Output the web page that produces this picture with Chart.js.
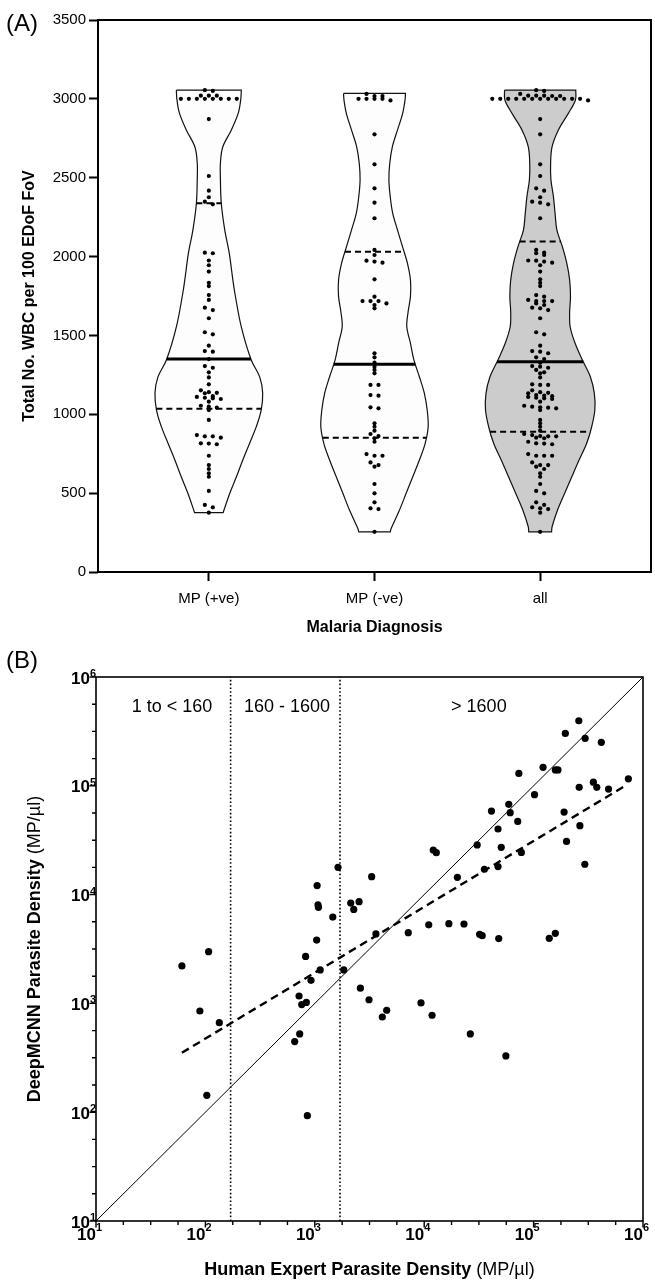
<!DOCTYPE html>
<html><head><meta charset="utf-8">
<script src="https://cdn.jsdelivr.net/npm/chart.js@4.4.0/dist/chart.umd.min.js"></script>
<style>
html,body{margin:0;padding:0;background:#fff;}
#wrapA{position:absolute;left:0;top:0;width:655px;height:645px;}
#wrapB{position:absolute;left:0;top:645px;width:655px;height:637px;}
canvas{display:block;}
</style></head><body>
<div id="wrapA"><canvas id="chartA" width="655" height="645"></canvas></div>
<div id="wrapB"><canvas id="chartB" width="655" height="637"></canvas></div>
<script>
// ---------------- Panel A data ----------------
const categories = ['MP (+ve)', 'MP (-ve)', 'all'];
const wbcTicks = [0, 500, 1000, 1500, 2000, 2500, 3000, 3500];

const wbcPositive = [3055, 3050, 3020, 3020, 3020, 3000, 3000, 3000, 3000, 3000, 3000, 3000, 3000,
  2872, 2511, 2418, 2376, 2348, 2331, 2025, 2021, 1975, 1945, 1905, 1834, 1813, 1756, 1725,
  1676, 1661, 1609, 1520, 1507, 1435, 1401, 1397, 1350, 1306, 1295, 1266, 1234, 1190,
  1152, 1140, 1136, 1133, 1115, 1110, 1105, 1101, 1097, 1080, 1054, 1048, 1042, 1027, 964,
  868, 860, 860, 852, 816, 814, 810, 737, 678, 653, 626, 604, 514, 425, 410, 376];

const wbcNegative = [3031, 3018, 3018, 3000, 3000, 3000, 3000, 2990,
  2775, 2585, 2433, 2342, 2243, 2042, 2010, 1974, 1968, 1961, 1856,
  1746, 1718, 1718, 1718, 1703, 1693, 1672,
  1387, 1361, 1327, 1302, 1281, 1260, 1186, 1186, 1122, 1118, 1044, 1038,
  943, 921, 896, 875, 862, 848, 826, 748, 737, 737, 695, 678, 668,
  558, 499, 442, 404, 399, 255];

const wbcAll = wbcPositive.concat(wbcNegative);

// violin outlines: WBC levels and half-widths (category units)
const violinLevelsPos = [3055, 3000, 2911, 2803, 2695, 2593, 2486, 2340, 2169, 2023, 1852, 1769, 1554, 1344, 1237, 1135, 1027, 920, 818, 710, 602, 501, 376];
const violinHalfPos   = [0.196, 0.193, 0.178, 0.136, 0.084, 0.070, 0.070, 0.075, 0.096, 0.123, 0.145, 0.157, 0.196, 0.256, 0.307, 0.325, 0.316, 0.286, 0.247, 0.205, 0.166, 0.127, 0.086];

const violinLevelsNeg = [3035, 2990, 2908, 2803, 2697, 2591, 2486, 2380, 2274, 2168, 2063, 1957, 1851, 1746, 1650, 1555, 1450, 1344, 1238, 1133, 1027, 921, 816, 710, 604, 499, 393, 277, 255];
const violinHalfNeg   = [0.187, 0.184, 0.170, 0.139, 0.108, 0.092, 0.087, 0.095, 0.110, 0.139, 0.169, 0.199, 0.217, 0.217, 0.203, 0.195, 0.217, 0.238, 0.271, 0.301, 0.318, 0.324, 0.306, 0.271, 0.231, 0.191, 0.151, 0.101, 0.095];

const violinLevelsAll = [3055, 2993, 2908, 2803, 2697, 2591, 2486, 2380, 2274, 2168, 2063, 1957, 1851, 1746, 1650, 1555, 1450, 1344, 1238, 1133, 1027, 921, 816, 710, 604, 499, 393, 287, 255];
const violinHalfAll   = [0.215, 0.213, 0.170, 0.110, 0.072, 0.063, 0.065, 0.080, 0.090, 0.101, 0.134, 0.161, 0.178, 0.183, 0.178, 0.181, 0.211, 0.255, 0.303, 0.327, 0.330, 0.311, 0.281, 0.235, 0.191, 0.148, 0.105, 0.072, 0.069];

// quartiles [Q1, median, Q3]
const quartilesPos = [1035, 1350, 2338];
const quartilesNeg = [852, 1317, 2031];
const quartilesAll = [890, 1333, 2095];

// ---------------- Panel B data ----------------
const expertDensity = [259000, 195000, 296000, 416000, 73300, 122000, 158000, 167000, 735000, 261000,
  352000, 378000, 484000, 102000, 59300, 41200, 61100, 190000, 71600, 47300,
  265000, 30500, 50600, 200000, 77300, 12100, 12900, 35500, 47300, 294000,
  20100, 3310, 1630, 1050, 1070, 1080, 1460, 2130, 2540, 2270,
  3620, 7150, 11000, 16800, 23100, 32100, 33900, 48000, 139000, 158000,
  1040, 824, 107, 61, 1840, 89, 134, 103, 1120, 923,
  718, 759, 837, 728, 655, 855, 2610, 3130, 4540, 4140,
  9350, 11800, 26400, 55800];
const cnnDensity = [396000, 303000, 273000, 251000, 130000, 148000, 140000, 140000, 116000, 96800,
  108000, 96800, 93300, 82800, 67500, 58600, 56600, 57400, 47100, 40100,
  43000, 28600, 27200, 30800, 24400, 25700, 24300, 17100, 18100, 19000,
  14400, 14600, 17800, 12100, 8070, 7640, 6220, 8360, 8610, 7310,
  4350, 4470, 5280, 5410, 5370, 4320, 4190, 3940, 3960, 4410,
  3820, 2700, 2990, 2210, 2030, 851, 665, 143, 2030, 1630,
  1170, 975, 1020, 524, 446, 93, 1380, 1080, 865, 750,
  1010, 778, 524, 329];
const fitX = [61, 706000];
const fitY = [352, 101600];
const identityXY = [10, 1000000];
const densityThresholds = [170, 1700];
const regionLabels = ['1 to < 160', '160 - 1600', '> 1600'];
const decadeTicks = [10, 100, 1000, 10000, 100000, 1000000];
const decadeExponents = ['1', '2', '3', '4', '5', '6'];

// ---------------- helpers ----------------
const FONT = '"Liberation Sans", Arial, Helvetica, sans-serif';
Chart.defaults.font.family = FONT;
Chart.defaults.color = '#000';

function violinShape(c, levels, halves) {
  const n = levels.length, p = [];
  const P = (x, y) => ({x: x, y: y});
  p.push(P(c - halves[0], levels[0]));
  p.push(P(c + halves[0], levels[0]), P(c + halves[0], levels[0]));
  for (let i = 1; i < n - 1; i++) p.push(P(c + halves[i], levels[i]));
  p.push(P(c + halves[n - 1], levels[n - 1]), P(c + halves[n - 1], levels[n - 1]));
  p.push(P(c - halves[n - 1], levels[n - 1]), P(c - halves[n - 1], levels[n - 1]));
  for (let i = n - 2; i >= 1; i--) p.push(P(c - halves[i], levels[i]));
  p.push(P(c - halves[0], levels[0]), P(c - halves[0], levels[0]));
  return p;
}
function halfAt(levels, halves, v) {
  for (let i = 0; i < levels.length - 1; i++) {
    if (v <= levels[i] && v >= levels[i + 1]) {
      const t = (levels[i] - v) / (levels[i] - levels[i + 1]);
      return halves[i] + t * (halves[i + 1] - halves[i]);
    }
  }
  return halves[halves.length - 1];
}
function swarm(values, c, spacing, tol) {
  const s = values.slice().sort((a, b) => b - a);
  const rows = [];
  s.forEach(v => {
    const r = rows[rows.length - 1];
    if (r && r[0] - v <= tol) r.push(v); else rows.push([v]);
  });
  const pts = [];
  rows.forEach(r => {
    const n = r.length;
    r.forEach((v, k) => pts.push({x: c + (k - (n - 1) / 2) * spacing, y: v}));
  });
  return pts;
}

// ---------------- Panel A ----------------
const groupsA = [
  {vals: wbcPositive, lv: violinLevelsPos, hw: violinHalfPos, q: quartilesPos, fill: '#fdfdfd'},
  {vals: wbcNegative, lv: violinLevelsNeg, hw: violinHalfNeg, q: quartilesNeg, fill: '#fdfdfd'},
  {vals: wbcAll, lv: violinLevelsAll, hw: violinHalfAll, q: quartilesAll, fill: '#cccccc'}
];
const dsA = [];
groupsA.forEach((g, i) => {
  dsA.push({data: violinShape(i, g.lv, g.hw), showLine: true, fill: 'shape', backgroundColor: g.fill,
    borderColor: '#111', borderWidth: 1.2, pointRadius: 0, tension: 0.35, order: 3});
  g.q.forEach((qv, k) => {
    const h = halfAt(g.lv, g.hw, qv);
    dsA.push({data: [{x: i - h, y: qv}, {x: i + h, y: qv}], showLine: true, fill: false,
      borderColor: '#000', borderWidth: k === 1 ? 3 : 2, borderDash: k === 1 ? [] : [6, 4],
      pointRadius: 0, tension: 0, order: 2});
  });
  dsA.push({data: swarm(g.vals, i, 0.0482, 18), showLine: false, pointRadius: 2.1,
    backgroundColor: '#000', borderWidth: 0, order: 0});
});

const decorA = {
  id: 'decorA',
  afterDraw(chart) {
    const {ctx, chartArea: a} = chart;
    ctx.save();
    ctx.strokeStyle = '#000'; ctx.lineWidth = 2;
    ctx.strokeRect(a.left, a.top, a.right - a.left, a.bottom - a.top);
    ctx.fillStyle = '#000'; ctx.font = '24px ' + FONT;
    ctx.textAlign = 'left'; ctx.textBaseline = 'middle';
    ctx.fillText('(A)', 6, 24);
    ctx.restore();
  }
};

new Chart(document.getElementById('chartA'), {
  type: 'scatter',
  data: {datasets: dsA},
  plugins: [decorA],
  options: {
    responsive: false, animation: false, events: [],
    layout: {padding: {top: 20, right: 3, left: 0, bottom: 0}},
    plugins: {legend: {display: false}, tooltip: {enabled: false}},
    scales: {
      x: {type: 'linear', min: -0.669, max: 2.669,
        afterBuildTicks: s => { s.ticks = categories.map((c, i) => ({value: i})); },
        afterFit: s => { s.height = 73; },
        grid: {display: true, drawOnChartArea: false, drawTicks: true, tickLength: 9, tickWidth: 2, tickColor: '#000'},
        border: {display: false},
        ticks: {callback: v => categories[v], font: {size: 15}, color: '#000', padding: 9, maxRotation: 0, autoSkip: false},
        title: {display: true, text: 'Malaria Diagnosis', font: {size: 16, weight: 'bold'}, color: '#000', padding: {top: 0, bottom: 8}}
      },
      y: {type: 'linear', min: 0, max: 3500,
        afterBuildTicks: s => { s.ticks = wbcTicks.map(v => ({value: v})); },
        afterFit: s => { s.width = 98; },
        grid: {display: true, drawOnChartArea: false, drawTicks: true, tickLength: 9, tickWidth: 2, tickColor: '#000'},
        border: {display: false},
        ticks: {callback: v => String(v), font: {size: 15}, color: '#000', padding: 3, autoSkip: false},
        title: {display: true, text: 'Total No. WBC per 100 EDoF FoV', font: {size: 16, weight: 'bold'}, color: '#000', padding: {top: 20, bottom: 0}}
      }
    }
  }
});

// ---------------- Panel B ----------------
const ptsB = expertDensity.map((x, i) => ({x: x, y: cnnDensity[i]}));
const dsB = [
  {data: ptsB, showLine: false, pointRadius: 3.6, backgroundColor: '#000', borderWidth: 0, order: 0},
  {data: fitX.map((x, i) => ({x: x, y: fitY[i]})), showLine: true, borderColor: '#000', borderWidth: 2.4,
    borderDash: [8, 5], pointRadius: 0, order: 1},
  {data: identityXY.map(v => ({x: v, y: v})), showLine: true, borderColor: '#000', borderWidth: 1,
    pointRadius: 0, order: 2},
  {data: [{x: densityThresholds[0], y: 10}, {x: densityThresholds[0], y: 1000000}], showLine: true,
    borderColor: '#000', borderWidth: 1.6, borderDash: [1.6, 2.2], pointRadius: 0, order: 3},
  {data: [{x: densityThresholds[1], y: 10}, {x: densityThresholds[1], y: 1000000}], showLine: true,
    borderColor: '#000', borderWidth: 1.6, borderDash: [1.6, 2.2], pointRadius: 0, order: 3}
];

function drawMixed(ctx, parts, cx, cy, rot) {
  ctx.save();
  ctx.translate(cx, cy);
  if (rot) ctx.rotate(-Math.PI / 2);
  let total = 0;
  parts.forEach(p => { ctx.font = p.font; p.w = ctx.measureText(p.text).width; total += p.w; });
  let x = -total / 2;
  ctx.textBaseline = 'middle'; ctx.textAlign = 'left'; ctx.fillStyle = '#000';
  parts.forEach(p => { ctx.font = p.font; ctx.fillText(p.text, x, 0); x += p.w; });
  ctx.restore();
}

const decorB = {
  id: 'decorB',
  afterDraw(chart) {
    const {ctx, chartArea: a, scales: {x, y}} = chart;
    ctx.save();
    ctx.strokeStyle = '#000'; ctx.lineWidth = 1.6;
    ctx.strokeRect(a.left, a.top, a.right - a.left, a.bottom - a.top);
    // axis ticks: major at decades, three minor per decade
    ctx.lineWidth = 1.4;
    for (let e = 1; e <= 6; e++) {
      for (let k = 0; k < 4; k++) {
        if (e === 6 && k > 0) break;
        const v = Math.pow(10, e + k / 4);
        const len = k === 0 ? 6.5 : 4;
        const px = x.getPixelForValue(v), py = y.getPixelForValue(v);
        ctx.beginPath();
        ctx.moveTo(px, a.bottom); ctx.lineTo(px, a.bottom + len);
        ctx.moveTo(a.left, py); ctx.lineTo(a.left - len, py);
        ctx.stroke();
      }
    }
    // decade tick labels: "10" with raised exponent
    ctx.fillStyle = '#000';
    ctx.textBaseline = 'middle';
    decadeTicks.forEach((v, i) => {
      const px = x.getPixelForValue(v), py = y.getPixelForValue(v);
      // x axis
      ctx.font = 'bold 17px ' + FONT; ctx.textAlign = 'right';
      ctx.fillText('10', px, a.bottom + 14);
      ctx.font = 'bold 11px ' + FONT; ctx.textAlign = 'left';
      ctx.fillText(decadeExponents[i], px, a.bottom + 7);
      // y axis
      ctx.font = 'bold 11px ' + FONT; ctx.textAlign = 'right';
      ctx.fillText(decadeExponents[i], a.left, py - 3);
      const ew = ctx.measureText(decadeExponents[i]).width;
      ctx.font = 'bold 17px ' + FONT;
      ctx.fillText('10', a.left - ew, py + 2);
    });
    // region labels
    ctx.font = '18px ' + FONT;
    ctx.textAlign = 'center'; ctx.textBaseline = 'middle';
    const labelX = [49.5, 557, 31600];
    regionLabels.forEach((t, i) => ctx.fillText(t, x.getPixelForValue(labelX[i]), y.getPixelForValue(530000)));
    // panel letter
    ctx.font = '24px ' + FONT; ctx.textAlign = 'left';
    ctx.fillText('(B)', 6, 16);
    // axis titles (bold + regular unit)
    drawMixed(ctx, [{text: 'Human Expert Parasite Density ', font: 'bold 18px ' + FONT}, {text: '(MP/\u00B5l)', font: '18px ' + FONT}],
      (a.left + a.right) / 2, 625, false);
    drawMixed(ctx, [{text: 'DeepMCNN Parasite Density ', font: 'bold 18px ' + FONT}, {text: '(MP/\u00B5l)', font: '18px ' + FONT}],
      35, (a.top + a.bottom) / 2, true);
    ctx.restore();
  }
};

new Chart(document.getElementById('chartB'), {
  type: 'scatter',
  data: {datasets: dsB},
  plugins: [decorB],
  options: {
    responsive: false, animation: false, events: [],
    layout: {padding: {top: 32, right: 12, left: 0, bottom: 0}},
    plugins: {legend: {display: false}, tooltip: {enabled: false}},
    scales: {
      x: {type: 'logarithmic', min: 10, max: 1000000,
        afterBuildTicks: s => { s.ticks = decadeTicks.map(v => ({value: v})); },
        afterFit: s => { s.height = 61; },
        grid: {display: false, drawTicks: false},
        border: {display: false},
        ticks: {display: false}
      },
      y: {type: 'logarithmic', min: 10, max: 1000000,
        afterBuildTicks: s => { s.ticks = decadeTicks.map(v => ({value: v})); },
        afterFit: s => { s.width = 96; },
        grid: {display: false, drawTicks: false},
        border: {display: false},
        ticks: {display: false}
      }
    }
  }
});
</script>
</body></html>
